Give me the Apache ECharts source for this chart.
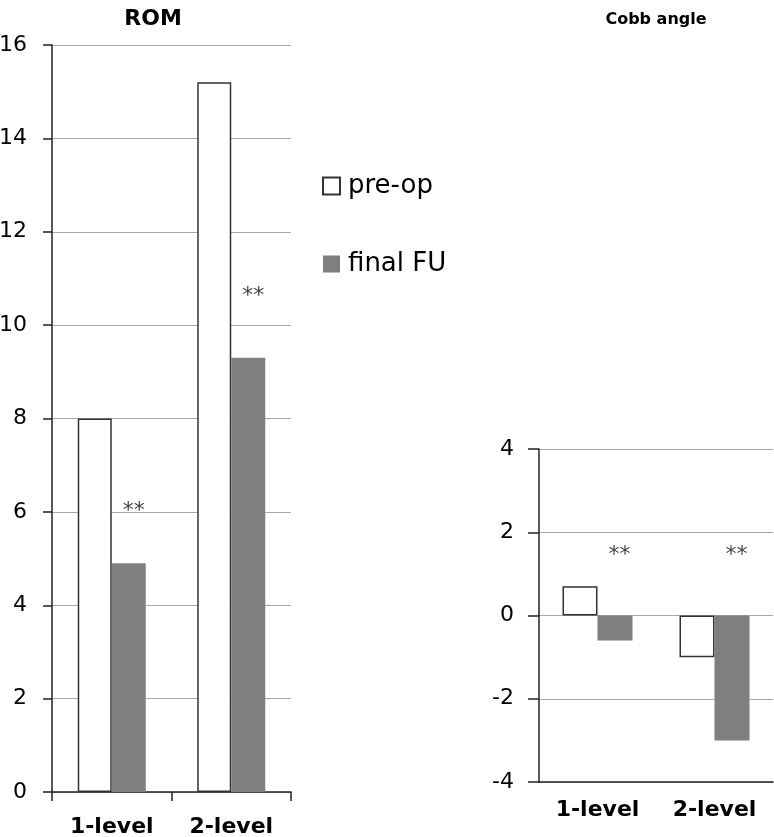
<!DOCTYPE html>
<html>
<head>
<meta charset="utf-8">
<script src="https://cdn.jsdelivr.net/npm/echarts@6/dist/echarts.min.js"></script>
<style>html,body{margin:0;padding:0;background:#fff}#c{width:774px;height:837px}</style>
</head>
<body>
<div id="c"></div>
<script>
const categories = ['1-level', '2-level'];
const romPreOp = [8.0, 15.2];
const romFinalFU = [4.9, 9.3];
const cobbPreOp = [0.7, -1.0];
const cobbFinalFU = [-0.6, -3.0];
const romTicks = [0, 2, 4, 6, 8, 10, 12, 14, 16];
const cobbTicks = [-4, -2, 0, 2, 4];
const romSigLevel = [6.1, 10.7];
const cobbSigLevel = [1.55, 1.55];
const sigMark = '**';

const FONT = 'DejaVu Sans';
const axisDark = '#222';
const gridGray = '#a8a8a8';

const chart = echarts.init(document.getElementById('c'), null, {renderer: 'canvas'});

function yAxisCfg(grid, ticks, tickLen) {
  return {
    type: 'value', gridIndex: grid,
    min: ticks[0], max: ticks[ticks.length - 1], interval: ticks[1] - ticks[0],
    axisLine: {show: true, lineStyle: {color: axisDark, width: 1.5}},
    axisTick: {show: true, length: tickLen, lineStyle: {color: axisDark, width: 1.5}},
    axisLabel: {fontFamily: FONT, fontSize: 22, color: '#000', margin: 25},
    splitLine: {show: true, lineStyle: {color: gridGray, width: 1}}
  };
}

const sigLabel = {
  show: true, position: 'inside', formatter: sigMark,
  fontFamily: FONT, fontSize: 22, color: '#111', offset: [22, 4]
};

chart.setOption({
  animation: false,
  backgroundColor: '#fff',
  title: [
    {text: 'ROM', left: 153, top: 8, textAlign: 'center', padding: 0,
     textStyle: {fontFamily: FONT, fontWeight: 'bold', fontSize: 22, color: '#000'}},
    {text: 'Cobb angle', left: 656, top: 12, textAlign: 'center', padding: 0,
     textStyle: {fontFamily: FONT, fontWeight: 'bold', fontSize: 16, color: '#000'}}
  ],
  legend: {
    orient: 'vertical', left: 322, top: 173, padding: 0,
    itemWidth: 17, itemHeight: 17, itemGap: 52,
    icon: 'rect', selectedMode: false,
    data: ['pre-op', 'final FU'],
    textStyle: {fontFamily: FONT, fontSize: 26, color: '#000', padding: [0, 0, 0, 3]}
  },
  grid: [
    {left: 52, top: 45, width: 239, height: 747, containLabel: false, outerBoundsMode: 'none'},
    {left: 539, top: 449, width: 234, height: 333, containLabel: false, outerBoundsMode: 'none'}
  ],
  xAxis: [
    {type: 'category', gridIndex: 0, data: categories,
     axisLine: {show: true, lineStyle: {color: axisDark, width: 1.5}},
     axisTick: {show: true, length: 9, lineStyle: {color: axisDark, width: 1.5}},
     axisLabel: {fontFamily: FONT, fontWeight: 'bold', fontSize: 22, color: '#000', margin: 24}},
    {type: 'category', gridIndex: 1, data: categories, position: 'bottom',
     axisLine: {show: true, onZero: false, lineStyle: {color: axisDark, width: 1.5}},
     axisTick: {show: false},
     axisLabel: {fontFamily: FONT, fontWeight: 'bold', fontSize: 22, color: '#000', margin: 17}}
  ],
  yAxis: [yAxisCfg(0, romTicks, 9), yAxisCfg(1, cobbTicks, 11)],
  series: [
    {name: 'pre-op', type: 'bar', xAxisIndex: 0, yAxisIndex: 0, data: romPreOp,
     barWidth: 34, barGap: '0%',
     itemStyle: {color: '#fff', borderColor: '#333', borderWidth: 1.5}},
    {name: 'final FU', type: 'bar', xAxisIndex: 0, yAxisIndex: 0, data: romFinalFU,
     barWidth: 34, barGap: '0%',
     itemStyle: {color: '#7f7f7f'}},
    {name: 'pre-op', type: 'bar', xAxisIndex: 1, yAxisIndex: 1, data: cobbPreOp,
     barWidth: 35, barGap: '0%',
     itemStyle: {color: '#fff', borderColor: '#333', borderWidth: 1.5}},
    {name: 'final FU', type: 'bar', xAxisIndex: 1, yAxisIndex: 1, data: cobbFinalFU,
     barWidth: 35, barGap: '0%',
     itemStyle: {color: '#7f7f7f'}},
    {name: 'sigROM', type: 'scatter', xAxisIndex: 0, yAxisIndex: 0, silent: true,
     symbolSize: 0, data: categories.map((c, i) => [c, romSigLevel[i]]), label: sigLabel},
    {name: 'sigCobb', type: 'scatter', xAxisIndex: 1, yAxisIndex: 1, silent: true,
     symbolSize: 0, data: categories.map((c, i) => [c, cobbSigLevel[i]]), label: sigLabel}
  ]
});
</script>
</body>
</html>
